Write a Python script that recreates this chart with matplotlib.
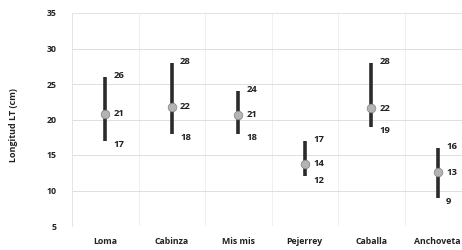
import numpy as np
import matplotlib.pyplot as plt

species = ["Loma", "Cabinza", "Mis mis", "Pejerrey", "Caballa", "Anchoveta"]
low = [17, 18, 18, 12, 19, 9]
high = [26, 28, 24, 17, 28, 16]
mean = [20.8, 21.8, 20.7, 13.8, 21.6, 12.6]

plt.rcParams["font.family"] = ["Open Sans", "DejaVu Sans"]
plt.rcParams["font.weight"] = "bold"

fig = plt.figure(figsize=(4.62, 2.5), dpi=100)
ax = fig.add_axes([72 / 462, 24 / 250, 399 / 462, 213 / 250])

x = np.arange(len(species))
ax.vlines(x, low, high, color="#2b2b2b", linewidth=2.6, zorder=3)
ax.scatter(x, mean, s=38, color="#b4b4b4", edgecolor="#8a8a8a", linewidth=0.6, zorder=4)

fs = 6.8
for xi, lo, hi, m in zip(x, low, high, mean):
    ax.annotate(f"{hi:.0f}", (xi, hi), xytext=(6, 1), textcoords="offset points",
                fontsize=fs, fontweight="bold", va="center", color="#222222")
    ax.annotate(f"{m:.0f}", (xi, m), xytext=(6, 0), textcoords="offset points",
                fontsize=fs, fontweight="bold", va="center", color="#222222")
    ax.annotate(f"{lo:.0f}", (xi, lo), xytext=(6, -3), textcoords="offset points",
                fontsize=fs, fontweight="bold", va="center", color="#222222")

ax.set_xlim(-0.5, 5.5)
ax.set_ylim(5, 35)
ax.set_yticks(np.arange(5, 36, 5))
ax.set_xticks(x)
ax.set_xticklabels(species)
ax.set_xticks(np.arange(-0.5, 6, 1), minor=True)
ax.tick_params(axis="both", which="both", length=0, labelsize=6.3, colors="#222222")
ax.tick_params(axis="y", pad=11)
ax.tick_params(axis="x", pad=8)

ax.grid(axis="y", color="#dedede", linewidth=0.7)
ax.grid(axis="x", which="minor", color="#efefef", linewidth=0.7)
for s in ["right", "bottom"]:
    ax.spines[s].set_visible(False)
for s in ["left", "top"]:
    ax.spines[s].set_color("#e4e4e4")
    ax.spines[s].set_linewidth(0.7)

fig.text(14 / 462, 0.5, "Longitud LT (cm)", rotation=90, va="center", ha="center",
         fontsize=6.5, fontweight="bold", color="#222222")

fig.savefig("out.png", dpi=100)
